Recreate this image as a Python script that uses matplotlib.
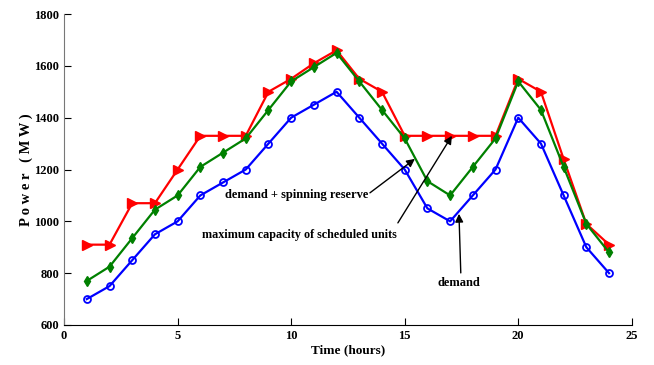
import numpy as np
import matplotlib.pyplot as plt

hours = list(range(1, 25))
demand = [700, 750, 850, 950, 1000, 1100, 1150, 1200, 1300, 1400, 1450, 1500,
          1400, 1300, 1200, 1050, 1000, 1100, 1200, 1400, 1300, 1100, 900, 800]
reserve = [770, 825, 935, 1045, 1100, 1210, 1265, 1320, 1430, 1540, 1595, 1650,
           1540, 1430, 1320, 1155, 1100, 1210, 1320, 1540, 1430, 1210, 990, 880]
capacity = [910, 910, 1070, 1070, 1200, 1330, 1330, 1330, 1500, 1550, 1610, 1660,
            1550, 1500, 1330, 1330, 1330, 1330, 1330, 1550, 1500, 1240, 990, 910]

plt.rcParams['font.family'] = ['Liberation Serif', 'DejaVu Serif']
plt.rcParams['font.weight'] = 'bold'

fig = plt.figure(figsize=(6.54, 3.65), dpi=100)
ax = fig.add_axes([0.098, 0.1096, 0.868, 0.852])

ax.plot(hours, capacity, color='red', lw=1.6, marker='>', ms=7,
        mfc='red', mec='red')
ax.plot(hours, reserve, color='green', lw=1.6, marker='d', ms=5,
        mfc='green', mec='green')
ax.plot(hours, demand, color='blue', lw=1.6, marker='o', ms=5,
        mfc='none', mec='blue', mew=1.3)

ax.set_xlim(0, 25)
ax.set_ylim(600, 1800)
ax.set_xticks(range(0, 26, 5))
ax.set_yticks(range(600, 1801, 200))
ax.tick_params(direction='in', labelsize=9, length=5)
for s in ['top', 'right']:
    ax.spines[s].set_visible(False)
ax.spines['left'].set_color('#777777')

ax.set_xlabel('Time (hours)', fontsize=9.5, fontweight='bold', labelpad=2)
ax.set_ylabel('P o w e r   ( M W )', fontsize=10.5, fontweight='black', labelpad=1)

arrow = dict(arrowstyle='-|>', color='black', lw=1.0, mutation_scale=12,
             shrinkA=0, shrinkB=0)

# arrows (tail -> head)
ax.annotate('', xy=(15.45, 1241), xytext=(13.47, 1110), arrowprops=arrow)
ax.annotate('', xy=(17.08, 1330), xytext=(14.7, 994), arrowprops=arrow)
ax.annotate('', xy=(17.39, 1029), xytext=(17.47, 801), arrowprops=arrow)

ax.text(13.38, 1102, 'demand + spinning reserve', ha='right', va='center',
        fontsize=9)
ax.text(14.66, 947, 'maximum capacity of scheduled units', ha='right',
        va='center', fontsize=8.7)
ax.text(17.39, 762, 'demand', ha='center', va='center', fontsize=9)

fig.savefig('out.png', dpi=100)
